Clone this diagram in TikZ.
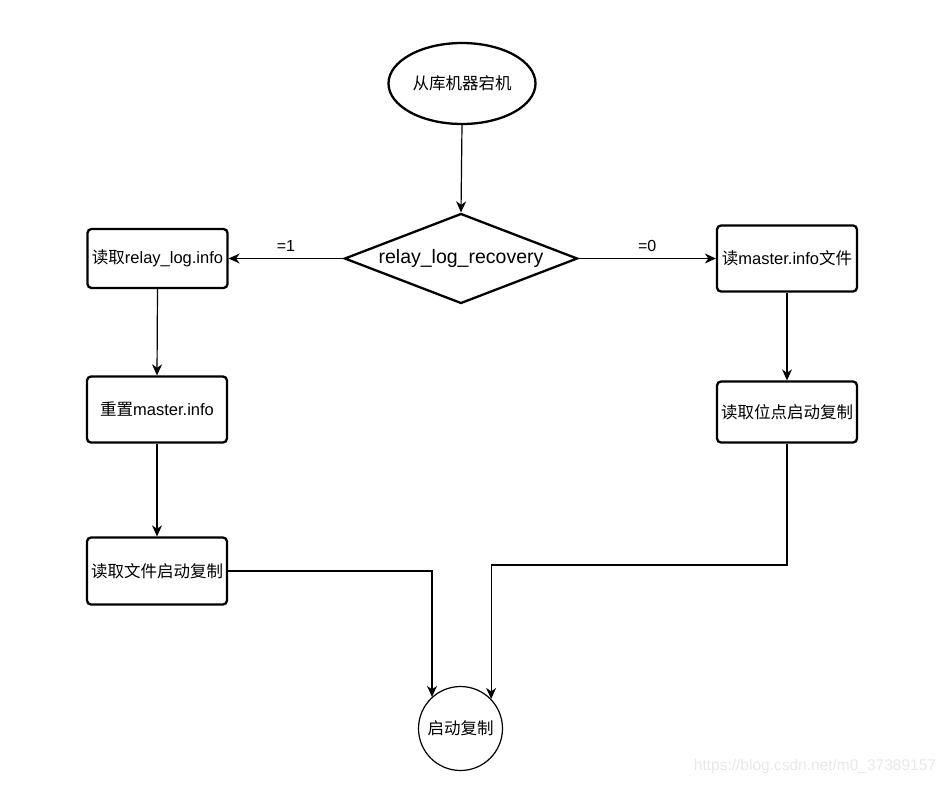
\documentclass[tikz,border=0pt]{standalone}
\usepackage{fontspec}
\setmainfont{Liberation Sans}
\newfontfamily\cjk{Noto Sans CJK SC}
\usetikzlibrary{arrows.meta,shapes.geometric}
\begin{document}
\begin{tikzpicture}[x=1pt,y=-1pt,
  box/.style={draw,line width=2.3pt,rounded corners=4pt,minimum width=140pt,inner sep=0pt,align=center,font=\fontsize{16.5}{18}\selectfont},
  conn/.style={line width=1.2pt,-{Stealth[length=11pt,width=10pt,inset=3.5pt]}},
  lbl/.style={font=\fontsize{16}{18}\selectfont}]
\useasboundingbox (0,0) rectangle (948,785);
\node[draw,ellipse,line width=2.3pt,minimum width=147pt,minimum height=81pt,inner sep=0pt,font=\fontsize{16.5}{18}\selectfont] (E) at (462,83.5) {\cjk 从库机器宕机};
\node[draw,diamond,line width=2.3pt,minimum width=233pt,minimum height=90pt,inner sep=0pt,aspect=2.5,font=\fontsize{19.5}{21}\selectfont] (D) at (461,258.5) {relay\_log\_recovery};
\node[box,minimum height=59pt] (L1) at (157.5,258.5) {{\cjk 读取}relay\_log.info};
\node[box,minimum height=66pt] (L2) at (157,409.5) {{\cjk 重置}master.info};
\node[box,minimum height=67pt] (L3) at (157,571) {\cjk 读取文件启动复制};
\node[box,minimum height=66pt] (R1) at (787,258.5) {{\cjk 读}master.info{\cjk 文件}};
\node[box,minimum height=61pt] (R2) at (787,412) {\cjk 读取位点启动复制};
\node[draw,circle,line width=1.2pt,minimum size=84pt,inner sep=0pt,font=\fontsize{16.5}{18}\selectfont] (C) at (460.5,728.5) {\cjk 启动复制};
\coordinate (rb) at (787,565);
\draw[conn] (E.south) -- (D.north);
\draw[conn] (D.west) -- node[lbl,above=3pt] {=1} (L1.east);
\draw[conn] (D.east) -- node[lbl,above=3pt] {=0} (R1.west);
\draw[conn] (L1.south) -- (L2.north);
\draw[conn] (L2.south) -- (L3.north);
\draw[conn] (R1.south) -- (R2.north);
\draw[conn] (L3.east) -| (C.132);
\draw[conn] (R2.south) -- (rb) -| (C.44);
\node[text=black!9,font=\fontsize{15.5}{17}\selectfont,inner sep=0pt] (wm) at (815,766) {https://blog.csdn.net/m0\_37389157};
\end{tikzpicture}
\end{document}
